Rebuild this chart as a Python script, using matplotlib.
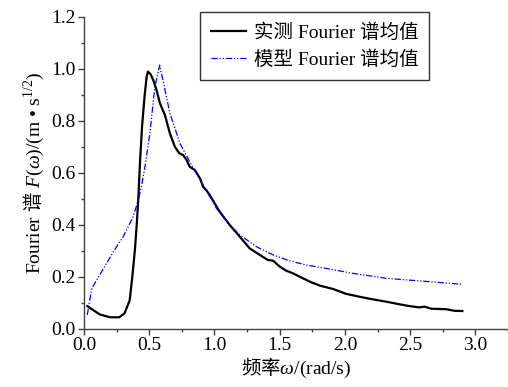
import matplotlib
matplotlib.use("Agg")
import matplotlib.pyplot as plt
from matplotlib.ticker import MultipleLocator


# Data

MEAS_X = [0.025, 0.12, 0.2, 0.27, 0.31, 0.35, 0.37, 0.39, 0.403, 0.416,
          0.43, 0.445, 0.465, 0.48, 0.49, 0.51, 0.53, 0.556, 0.582, 0.62,
          0.658, 0.696, 0.73, 0.76, 0.786, 0.81, 0.85, 0.888, 0.913, 0.94,
          0.964, 1.04, 1.117, 1.194, 1.27, 1.347, 1.41, 1.449, 1.5, 1.551,
          1.602, 1.678, 1.74, 1.806, 1.908, 2.01, 2.112, 2.214, 2.317, 2.418,
          2.495, 2.571, 2.61, 2.66, 2.776, 2.839, 2.9]
MEAS_Y = [0.088, 0.056, 0.045, 0.045, 0.06, 0.11, 0.2, 0.304, 0.394, 0.5,
          0.65, 0.78, 0.9, 0.97, 0.99, 0.98, 0.958, 0.919, 0.868, 0.823,
          0.753, 0.701, 0.676, 0.669, 0.65, 0.624, 0.611, 0.58, 0.547, 0.532,
          0.515, 0.451, 0.4, 0.355, 0.31, 0.285, 0.265, 0.263, 0.24, 0.224,
          0.214, 0.195, 0.18, 0.167, 0.154, 0.135, 0.124, 0.114, 0.105, 0.095,
          0.088, 0.083, 0.086, 0.078, 0.076, 0.07, 0.069]

MODEL_X = [0.025, 0.059, 0.225, 0.30, 0.377, 0.416, 0.44, 0.467, 0.505,
           0.543, 0.58, 0.658, 0.735, 0.81, 0.862, 0.913, 1.015, 1.117,
           1.194, 1.32, 1.449, 1.577, 1.704, 1.857, 2.06, 2.317, 2.57, 2.898]
MODEL_Y = [0.054, 0.156, 0.297, 0.355, 0.432, 0.496, 0.547, 0.624, 0.753,
           0.932, 1.015, 0.83, 0.714, 0.643, 0.599, 0.554, 0.464, 0.4,
           0.362, 0.317, 0.285, 0.262, 0.246, 0.233, 0.214, 0.195, 0.185, 0.172]

LABEL_MEAS  = "实测 Fourier 谱均值"
LABEL_MODEL = "模型 Fourier 谱均值"
# CJK parts go through \mathsf (mapped to the CJK font) since mathtext has no fallback
X_LABEL     = "$\\mathsf{频率}\\omega$/(rad/s)"
Y_LABEL     = "Fourier $\\mathsf{谱}$ $F(\\omega)$/(m • s$^{1/2}$)"


# Style

plt.rcParams["font.family"] = ["Liberation Serif", "Noto Sans CJK SC"]
plt.rcParams["mathtext.fontset"] = "custom"
plt.rcParams["mathtext.rm"] = "Liberation Serif"
plt.rcParams["mathtext.it"] = "Liberation Serif:italic"
plt.rcParams["mathtext.sf"] = "Noto Sans CJK SC"
plt.rcParams["font.size"] = 14

fig = plt.figure(figsize=(5.08, 3.87), dpi=100)
ax = fig.add_axes([0.1654, 0.1499, 0.8346, 0.8062])

ax.plot(MEAS_X, MEAS_Y, color="black", lw=1.6, label=LABEL_MEAS)
ax.plot(MODEL_X, MODEL_Y, color="#0000ff", lw=0.9,
        dashes=(5, 1.5, 1, 1.5, 1, 1.5), label=LABEL_MODEL)

ax.set_xlim(0, 3.25)
ax.set_ylim(0, 1.2)
ax.xaxis.set_major_locator(MultipleLocator(0.5))
ax.xaxis.set_minor_locator(MultipleLocator(0.25))
ax.yaxis.set_major_locator(MultipleLocator(0.2))
ax.yaxis.set_minor_locator(MultipleLocator(0.1))
ax.xaxis.set_major_formatter(lambda v, p: f"{v:.1f}")
ax.yaxis.set_major_formatter(lambda v, p: f"{v:.1f}")

for side in ("top", "right"):
    ax.spines[side].set_visible(False)
for side in ("left", "bottom"):
    ax.spines[side].set_color("#404040")
    ax.spines[side].set_linewidth(1.0)

ax.tick_params(which="major", direction="out", length=4, width=1,
               color="#404040", labelsize=14, pad=2)
ax.tick_params(which="minor", direction="out", length=2.2, width=1,
               color="#404040")

ax.set_xlabel(X_LABEL, fontsize=14, labelpad=1)
ax.set_ylabel(Y_LABEL, fontsize=14, labelpad=4)

leg = ax.legend(loc="upper left", bbox_to_anchor=(0.274, 1.015),
                frameon=True, fancybox=False, edgecolor="black",
                fontsize=14, handlelength=1.8, handletextpad=0.4,
                borderpad=0.55, labelspacing=0.45, borderaxespad=0)
leg.get_frame().set_linewidth(1.0)

fig.savefig("out.png", dpi=100)
